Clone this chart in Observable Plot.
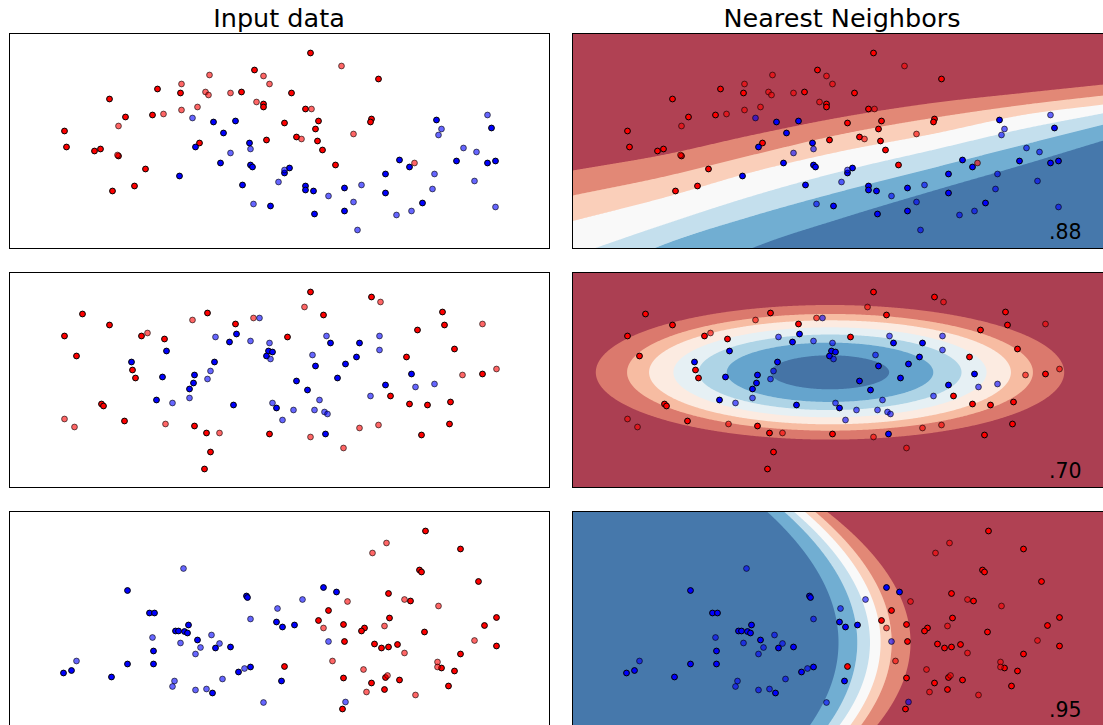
<!DOCTYPE html>
<html>
<head>
<meta charset="utf-8">
<script src="https://cdn.jsdelivr.net/npm/d3@7"></script>
<script src="https://cdn.jsdelivr.net/npm/@observablehq/plot@0.6"></script>
<style>
  body { margin: 0; background: #fff; }
  #chart { position: relative; width: 1103px; height: 725px; overflow: hidden; font-family: "DejaVu Sans", sans-serif; }
  .title { position: absolute; top: 5.5px; font-size: 25.5px; line-height: 25.5px; white-space: nowrap; transform: translateX(-50%); color: #000; }
  #chart svg { position: absolute; }
</style>
</head>
<body>
<div id="chart"></div>
<script>
// ---------------- data ----------------
const columnTitles = ["Input data", "Nearest Neighbors"];
const scores = [".88", ".70", ".95"];

// Dataset 1 (moons)
const moonsRedTrain = [[-0.25,0.71],[-1.22,0.52],[-0.99,0.48],[-0.38,0.49],[-1.70,0.42],[-0.16,0.37],[-0.16,0.34],[-1.27,0.26],[-1.54,0.24],[0.05,0.18],[-2.15,0.10],[-2.13,-0.06],[-1.85,-0.10],[-1.79,-0.08],[-0.80,-0.02],[-0.13,0.01],[-1.61,-0.15],[-1.34,-0.28],[-1.45,-0.45],[-1.67,-0.50],[0.31,0.88],[0.99,0.62],[0.12,0.48],[0.26,0.32],[0.39,0.20],[0.36,0.12],[0.17,0.04],[0.38,0.00],[0.43,-0.09],[0.92,0.22],[0.91,0.19],[0.56,-0.24]];
const moonsRedTest = [[-0.16,0.65],[-0.10,0.57],[-0.70,0.66],[-0.98,0.57],[-0.74,0.49],[-0.71,0.46],[-0.49,0.48],[-0.23,0.39],[-0.82,0.34],[-0.98,0.31],[-1.16,0.27],[-1.61,0.15],[-1.62,-0.14],[0.62,0.75],[0.32,0.32],[0.22,0.02],[0.74,0.07],[1.35,-0.22]];
const moonsBlueTrain = [[-0.66,0.19],[-0.44,0.20],[-0.56,0.08],[-0.84,-0.06],[-0.30,-0.02],[-0.59,-0.22],[-0.29,-0.24],[-0.27,-0.26],[-1.00,-0.35],[-0.37,-0.44],[-0.09,-0.65],[0.10,-0.27],[0.05,-0.32],[0.26,-0.45],[0.26,-0.49],[0.34,-0.50],[0.65,-0.47],[0.35,-0.73],[0.65,-0.70],[1.06,-0.33],[1.06,-0.52],[1.20,-0.19],[1.30,-0.26],[1.43,-0.62],[1.57,0.21],[1.77,-0.20],[2.12,0.13],[2.08,-0.22],[2.16,-0.20]];
const moonsBlueTest = [[-0.87,0.23],[-0.29,-0.08],[-0.49,-0.12],[-0.01,-0.41],[-0.26,-0.63],[0.05,-0.29],[0.49,-0.55],[0.82,-0.44],[0.74,-0.61],[0.78,-0.89],[1.17,-0.74],[1.32,-0.70],[1.55,-0.33],[1.53,-0.48],[1.62,0.12],[1.59,0.06],[1.84,-0.07],[1.97,-0.11],[1.95,-0.40],[2.08,0.26],[2.16,-0.66]];

// Dataset 2 (circles)
const circlesRedTrain = [[-1.97,0.66],[-1.70,0.55],[-2.15,0.44],[-2.03,0.24],[-1.38,0.44],[-1.15,0.41],[-0.72,0.67],[-0.44,0.56],[0.08,0.43],[-1.47,0.10],[-1.44,0.02],[-1.78,-0.24],[-1.76,-0.26],[-1.55,-0.41],[-0.85,-0.46],[-0.73,-0.53],[-0.69,-0.72],[-0.75,-0.89],[-0.10,-0.54],[0.31,0.88],[0.44,0.65],[0.92,0.83],[1.11,-0.16],[1.27,0.23],[1.38,0.50],[1.63,0.68],[1.65,0.55],[1.75,0.31],[2.03,0.06],[1.30,-0.24],[1.48,-0.25],[1.71,-0.22],[1.70,-0.44],[1.42,-0.55]];
const circlesRedTest = [[-1.32,0.47],[-0.87,0.60],[-0.26,0.62],[-2.15,-0.39],[-2.05,-0.47],[-1.14,-0.44],[-0.60,-0.53],[0.25,0.73],[1.01,0.78],[0.31,-0.57],[0.64,-0.68],[0.80,-0.48],[0.99,-0.45],[2.03,0.56],[1.83,0.05],[2.17,0.11]];
const circlesBlueTrain = [[-0.43,0.46],[-0.50,0.38],[-0.11,0.29],[-0.07,0.28],[-0.13,0.24],[-1.13,0.29],[-1.48,0.18],[-1.17,0.03],[-0.65,0.18],[-0.85,0.05],[-0.86,-0.03],[-0.90,-0.09],[-1.23,-0.20],[-0.46,-0.25],[-0.03,-0.28],[0.51,0.37],[0.80,0.37],[0.36,0.14],[0.77,0.23],[0.66,0.16],[0.58,0.02],[0.17,-0.01],[0.28,-0.10],[0.46,-0.54],[1.06,-0.05],[1.32,0.06]];
const circlesBlueTest = [[-0.20,0.62],[-0.64,0.43],[-0.29,0.39],[-0.10,0.37],[-0.09,0.21],[-0.69,0.09],[-0.72,0.01],[-0.90,-0.18],[-1.07,-0.23],[-0.07,-0.23],[0.03,-0.40],[0.47,0.44],[1.00,0.44],[1.00,0.30],[0.33,0.25],[0.40,-0.20],[0.14,-0.30],[0.35,-0.30],[0.45,-0.32],[0.48,-0.34],[0.91,-0.16],[1.36,-0.07],[1.55,-0.04]];

// Dataset 3 (linearly separable)
const linearRedTrain = [[0.05,-0.475],[1.46,0.88],[1.81,0.70],[1.40,0.49],[1.42,0.47],[1.99,0.375],[1.09,0.255],[1.31,0.18],[0.49,0.085],[0.39,-0.015],[0.64,-0.055],[1.10,0.01],[0.85,-0.09],[0.82,-0.12],[1.45,-0.13],[2.05,-0.065],[2.17,0.015],[0.65,-0.225],[0.95,-0.25],[1.02,-0.29],[1.09,-0.28],[1.18,-0.255],[0.64,-0.59],[0.92,-0.64],[1.06,-0.585],[1.05,-0.705],[1.20,-0.61],[1.62,-0.49],[1.75,-0.52],[1.69,-0.67],[1.81,-0.35],[2.17,-0.27],[0.63,-0.90]];
const linearRedTest = [[1.07,0.76],[0.93,0.66],[0.68,0.175],[1.25,0.195],[1.59,0.13],[0.44,-0.09],[1.05,-0.07],[1.25,-0.34],[0.53,-0.42],[0.84,-0.505],[0.87,-0.73],[1.08,-0.565],[1.36,-0.76],[1.58,-0.43],[1.58,-0.48],[1.95,-0.215]];
const linearBlueTrain = [[-1.52,0.285],[-1.30,0.06],[-1.25,0.06],[-0.33,0.23],[-0.32,0.215],[-0.03,-0.03],[0.03,-0.08],[-0.91,-0.06],[-1.04,-0.12],[-1.01,-0.12],[-0.95,-0.125],[-0.92,-0.14],[-0.82,-0.21],[-0.64,-0.29],[-0.49,-0.28],[-1.26,-0.32],[-2.16,-0.54],[-2.08,-0.515],[-1.68,-0.58],[-1.52,-0.45],[-1.26,-0.45],[-0.67,-0.74],[-0.41,-0.53],[-0.29,-0.48],[0.02,-0.62],[0.44,0.315],[0.57,0.27],[0.15,-0.06]];
const linearBlueTest = [[-0.96,0.505],[-0.02,0.105],[-0.29,0.00],[-1.27,-0.185],[-0.99,-0.24],[-0.68,-0.16],[-0.79,-0.285],[-0.84,-0.35],[-0.60,-0.245],[-2.03,-0.42],[-1.05,-0.62],[-1.07,-0.675],[-0.84,-0.71],[-0.73,-0.70],[-0.57,-0.60],[-0.35,-0.495],[-0.16,-0.835],[0.23,0.195],[0.49,-0.225],[0.66,-0.83]];

// Decision-surface band edges
// moons: y of each band edge (red side first) sampled at these x
const moonsEdgeX = [-2.7, -1.8, -0.9, 0, 0.9, 1.8, 2.61];
const moonsEdges = [
  [-0.295, -0.14, 0.06, 0.24, 0.38, 0.48, 0.565],
  [-0.545, -0.36, -0.14, 0.07, 0.23, 0.36, 0.455],
  [-0.80, -0.57, -0.31, -0.10, 0.07, 0.26, 0.365],
  [-1.15, -0.84, -0.55, -0.30, -0.09, 0.12, 0.278],
  [-1.45, -1.04, -0.75, -0.50, -0.27, -0.04, 0.165],
  [-2.0, -1.5, -1.07, -0.77, -0.50, -0.24, 0.005]
];
// circles: concentric ellipses (outer first), semi-minor axes
const circlesCenter = [-0.125, 0.077];
const circlesAspect = 3.48;
const circlesRadii = [0.673, 0.583, 0.52, 0.45, 0.378, 0.297, 0.17];
// linear: parabolic edges (red side first), vertex x and curvature
const linearVertexY = -0.235;
const linearVertexX = [0.68, 0.491, 0.381, 0.275, 0.148, -0.04];
const linearCurv = [0.488, 0.447, 0.443, 0.445, 0.427, 0.417];

// ---------------- styles ----------------
const PALETTE_7 = ["#B04153", "#E28876", "#FACFBA", "#F9F9F9", "#C4DFED", "#71AED2", "#4678AB"];
const PALETTE_8 = ["#AB3F52", "#DB796D", "#F7BCA2", "#FCEBE1", "#E6F0F4", "#AED4E6", "#65A4CD", "#4574A6"];
const RED = "#ff0000", BLUE = "#0000ff";
const DOT_R = 2.9;
const Y_DOMAIN = [-1.075, 1.075];
const X_LEFT = [-2.70, 2.70];
const X_RIGHT = [-2.70, 2.61];
const ROW_TOPS = [33, 272, 511];
const PANEL_H = 215;
const LEFT_X0 = 9, LEFT_W = 540;
const RIGHT_X0 = 572, RIGHT_W = 531;

// ---------------- helpers ----------------
function spline(xs, ys, x) {
  const n = xs.length;
  if (x <= xs[0]) x = xs[0];
  if (x >= xs[n - 1]) x = xs[n - 1];
  let i = 0;
  while (i < n - 2 && x > xs[i + 1]) i++;
  const tan = (k) => k === 0 ? (ys[1] - ys[0]) / (xs[1] - xs[0])
    : k === n - 1 ? (ys[n - 1] - ys[n - 2]) / (xs[n - 1] - xs[n - 2])
    : (ys[k + 1] - ys[k - 1]) / (xs[k + 1] - xs[k - 1]);
  const h = xs[i + 1] - xs[i];
  const t = (x - xs[i]) / h, t2 = t * t, t3 = t2 * t;
  return (2 * t3 - 3 * t2 + 1) * ys[i] + (t3 - 2 * t2 + t) * h * tan(i)
    + (-2 * t3 + 3 * t2) * ys[i + 1] + (t3 - t2) * h * tan(i + 1);
}
// continuous band index: crosses k exactly at edge P[k-1] (P ascending)
function bandValue(t, P) {
  const n = P.length;
  let v;
  if (t <= P[0]) v = 1 - (P[0] - t) / (P[1] - P[0]);
  else if (t >= P[n - 1]) v = n + (t - P[n - 1]) / (P[n - 1] - P[n - 2]);
  else {
    let i = 0;
    while (t > P[i + 1]) i++;
    v = 1 + i + (t - P[i]) / (P[i + 1] - P[i]);
  }
  return Math.max(0, Math.min(n + 1, v));
}

const datasets = [
  {
    redTrain: moonsRedTrain, redTest: moonsRedTest, blueTrain: moonsBlueTrain, blueTest: moonsBlueTest,
    palette: PALETTE_7, score: scores[0],
    field: (x, y) => bandValue(-y, moonsEdges.map((e) => -spline(moonsEdgeX, e, x)))
  },
  {
    redTrain: circlesRedTrain, redTest: circlesRedTest, blueTrain: circlesBlueTrain, blueTest: circlesBlueTest,
    palette: PALETTE_8, score: scores[1],
    field: (x, y) => bandValue(-Math.hypot((x - circlesCenter[0]) / circlesAspect, y - circlesCenter[1]), circlesRadii.map((r) => -r))
  },
  {
    redTrain: linearRedTrain, redTest: linearRedTest, blueTrain: linearBlueTrain, blueTest: linearBlueTest,
    palette: PALETTE_7, score: scores[2],
    field: (x, y) => bandValue(-x, linearVertexX.map((xv, i) => -(xv - linearCurv[i] * (y - linearVertexY) ** 2)))
  }
];

function dotMarks(ds) {
  const acc = {x: (d) => d[0], y: (d) => d[1], r: DOT_R, stroke: "#000", strokeWidth: 1};
  return [
    Plot.dot(ds.redTrain, {...acc, fill: RED}),
    Plot.dot(ds.blueTrain, {...acc, fill: BLUE}),
    Plot.dot(ds.redTest, {...acc, fill: RED, fillOpacity: 0.6, strokeOpacity: 0.6}),
    Plot.dot(ds.blueTest, {...acc, fill: BLUE, fillOpacity: 0.6, strokeOpacity: 0.6})
  ];
}

function panel(ds, withSurface) {
  const width = withSurface ? RIGHT_W : LEFT_W;
  const xDomain = withSurface ? X_RIGHT : X_LEFT;
  const marks = [];
  if (withSurface) {
    marks.push(Plot.frame({fill: ds.palette[0]}));
    marks.push(Plot.contour({
      value: ds.field, fill: "value", stroke: "none",
      x1: xDomain[0], x2: xDomain[1], y1: Y_DOMAIN[0], y2: Y_DOMAIN[1],
      thresholds: d3.range(1, ds.palette.length), pixelSize: 1
    }));
  }
  marks.push(...dotMarks(ds));
  marks.push(Plot.frame({stroke: "#000", strokeWidth: 1}));
  if (withSurface) {
    marks.push(Plot.text([ds.score], {
      text: (d) => d, frameAnchor: "bottom-right", textAnchor: "end", lineAnchor: "bottom",
      dx: -22, dy: -10, fontSize: 20.5, fill: "#000"
    }));
  }
  return Plot.plot({
    width: width + 2, height: PANEL_H + 2, margin: 1,
    x: {domain: xDomain, axis: null},
    y: {domain: Y_DOMAIN, axis: null},
    color: withSurface ? {type: "threshold", domain: d3.range(1, ds.palette.length), range: ds.palette} : undefined,
    style: {fontFamily: "DejaVu Sans, sans-serif", background: "transparent", overflow: "visible"},
    marks
  });
}

const chart = document.getElementById("chart");
columnTitles.forEach((t, i) => {
  const div = document.createElement("div");
  div.className = "title";
  div.textContent = t;
  div.style.left = (i === 0 ? LEFT_X0 + LEFT_W / 2 : RIGHT_X0 + LEFT_W / 2) + "px";
  chart.appendChild(div);
});
datasets.forEach((ds, row) => {
  [false, true].forEach((withSurface) => {
    const svg = panel(ds, withSurface);
    svg.style.left = ((withSurface ? RIGHT_X0 : LEFT_X0) - 1) + "px";
    svg.style.top = (ROW_TOPS[row] - 1) + "px";
    chart.appendChild(svg);
  });
});
</script>
</body>
</html>
